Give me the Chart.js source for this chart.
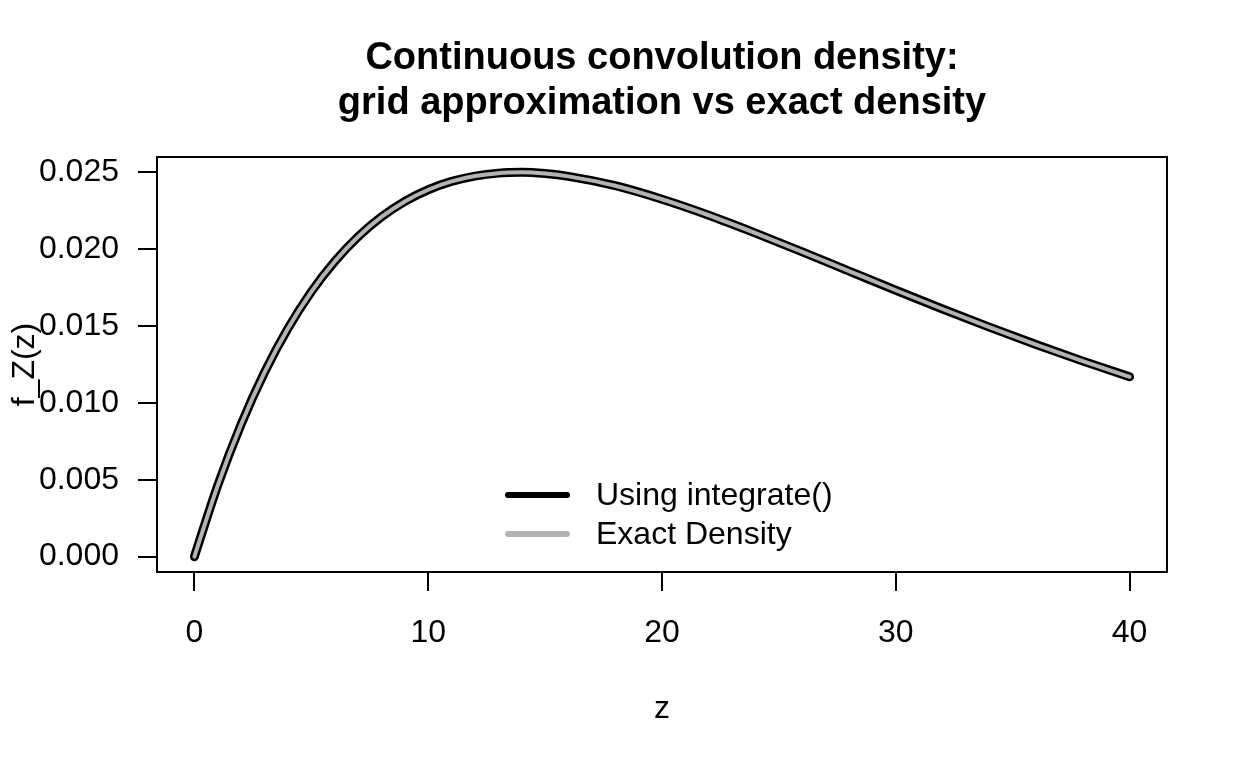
<!DOCTYPE html>
<html>
<head>
<meta charset="utf-8">
<title>Continuous convolution density</title>
<script src="https://cdn.jsdelivr.net/npm/chart.js@4/dist/chart.umd.min.js"></script>
<style>
  html, body { margin: 0; padding: 0; background: #fff; }
  #wrap { width: 1248px; height: 768px; }
</style>
</head>
<body>
<div id="wrap"><canvas id="densityChart" width="1248" height="768"></canvas></div>
<script>
"use strict";

// values
const zValues = [0, 1, 2, 3, 4, 5, 6, 7, 8, 9, 10, 11, 12, 13, 14, 15, 16, 18, 20, 22, 24, 26, 28, 30, 32, 34, 36, 38, 40];
const integrateValues = [0, 0.00464, 0.00861, 0.01199, 0.01484, 0.01723, 0.01920, 0.02081, 0.02210, 0.02311, 0.02387,
    0.02441, 0.02476, 0.02495, 0.02500, 0.02492, 0.02474, 0.02413, 0.02325, 0.02221, 0.02105, 0.01983, 0.01858,
    0.01733, 0.01611, 0.01493, 0.01380, 0.01272, 0.01170];
const exactValues = [0, 0.00464, 0.00861, 0.01199, 0.01484, 0.01723, 0.01920, 0.02081, 0.02210, 0.02311, 0.02387,
    0.02441, 0.02476, 0.02495, 0.02500, 0.02492, 0.02474, 0.02413, 0.02325, 0.02221, 0.02105, 0.01983, 0.01858,
    0.01733, 0.01611, 0.01493, 0.01380, 0.01272, 0.01170];

const xTicks = [0, 10, 20, 30, 40];
const yTicks = [0, 0.005, 0.010, 0.015, 0.020, 0.025];
const yTickLabels = ["0.000", "0.005", "0.010", "0.015", "0.020", "0.025"];

const titleLines = ["Continuous convolution density:", "grid approximation vs exact density"];
const seriesNames = ["Using integrate()", "Exact Density"];

const FONT = '"Liberation Sans", Arial, Helvetica, sans-serif';

function toPoints(xs, ys) {
    return xs.map((x, i) => ({x: x, y: ys[i]}));
}

// title, axis labels, box and legend drawn R-style
const rDecorations = {
    id: "rDecorations",
    afterDraw(chart) {
        const ctx = chart.ctx;
        const area = chart.chartArea;
        const midX = (area.left + area.right) / 2;
        const midY = (area.top + area.bottom) / 2;

        ctx.save();
        ctx.fillStyle = "#000";
        ctx.strokeStyle = "#000";

        // box
        ctx.lineWidth = 2;
        ctx.strokeRect(area.left, area.top, area.right - area.left, area.bottom - area.top);

        // title
        ctx.font = "bold 38px " + FONT;
        ctx.textAlign = "center";
        ctx.textBaseline = "middle";
        ctx.fillText(titleLines[0], midX, 59);
        ctx.fillText(titleLines[1], midX, 104);

        // axis labels
        ctx.font = "32px " + FONT;
        ctx.fillText("z", midX, 709);
        ctx.save();
        ctx.translate(34, midY);
        ctx.rotate(-Math.PI / 2);
        ctx.textBaseline = "alphabetic";
        ctx.fillText("f_Z(z)", 0, 0);
        ctx.restore();

        // legend
        ctx.textAlign = "left";
        ctx.textBaseline = "middle";
        ctx.lineCap = "round";
        chart.data.datasets.forEach((ds, i) => {
            const y = 495 + i * 39;
            ctx.strokeStyle = ds.borderColor;
            ctx.lineWidth = 6;
            ctx.beginPath();
            ctx.moveTo(508, y);
            ctx.lineTo(567, y);
            ctx.stroke();
            ctx.fillText(ds.label, 596, y + 1);
        });
        ctx.restore();
    }
};

const ctx = document.getElementById("densityChart");
new Chart(ctx, {
    type: "line",
    data: {
        datasets: [{
            label: seriesNames[0],
            data: toPoints(zValues, integrateValues),
            borderColor: "#000000",
            borderWidth: 9,
            order: 2
        }, {
            label: seriesNames[1],
            data: toPoints(zValues, exactValues),
            borderColor: "#b3b3b3",
            borderWidth: 4,
            order: 1
        }]
    },
    options: {
        responsive: false,
        animation: false,
        devicePixelRatio: 1,
        layout: {
            padding: {left: 0, top: 157, right: 81, bottom: 0}
        },
        elements: {
            point: {radius: 0, hoverRadius: 0},
            line: {cubicInterpolationMode: "monotone", borderCapStyle: "round", borderJoinStyle: "round", fill: false}
        },
        plugins: {
            legend: {display: false},
            title: {display: false},
            tooltip: {enabled: false}
        },
        scales: {
            x: {
                type: "linear",
                min: -1.6,
                max: 41.6,
                afterBuildTicks: scale => { scale.ticks = xTicks.map(v => ({value: v})); },
                afterFit: scale => { scale.height = 196; },
                border: {display: false},
                grid: {drawOnChartArea: false, drawTicks: true, tickLength: 19, tickColor: "#000", tickWidth: 2, lineWidth: 2},
                ticks: {
                    color: "#000",
                    padding: 23,
                    maxRotation: 0,
                    font: {family: FONT, size: 32},
                    callback: v => String(v)
                }
            },
            y: {
                type: "linear",
                min: -0.001,
                max: 0.026,
                afterBuildTicks: scale => { scale.ticks = yTicks.map(v => ({value: v})); },
                afterFit: scale => { scale.width = 157; },
                border: {display: false},
                grid: {drawOnChartArea: false, drawTicks: true, tickLength: 19, tickColor: "#000", tickWidth: 2, lineWidth: 2},
                ticks: {
                    color: "#000",
                    padding: 19,
                    font: {family: FONT, size: 32},
                    callback: (v, i) => yTickLabels[i]
                }
            }
        }
    },
    plugins: [rDecorations]
});
</script>
</body>
</html>
